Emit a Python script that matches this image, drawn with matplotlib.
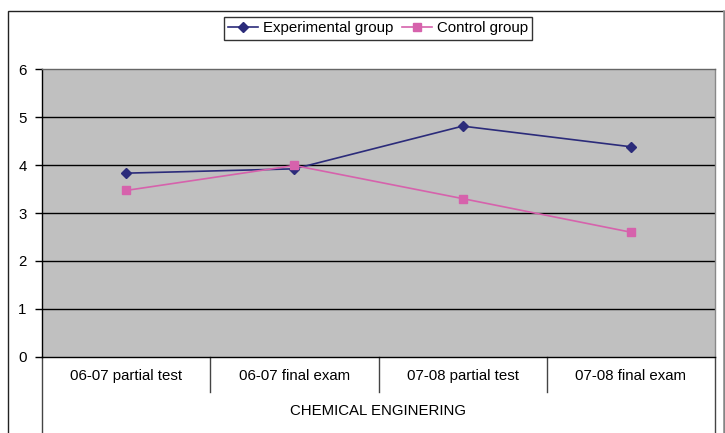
import matplotlib.pyplot as plt
import matplotlib.transforms as mtransforms
from matplotlib.patches import Rectangle

plt.rcParams['font.family'] = ['Liberation Sans', 'DejaVu Sans']

categories = ['06-07 partial test', '06-07 final exam', '07-08 partial test', '07-08 final exam']
group_label = 'CHEMICAL ENGINERING'
experimental = [3.83, 3.92, 4.81, 4.38]
control = [3.47, 3.99, 3.30, 2.60]
y_ticks = [0, 1, 2, 3, 4, 5, 6]

W, H = 725, 433
fs = 10.8
fig = plt.figure(figsize=(W / 100, H / 100), dpi=100)

# outer chart border (left/top dark, right edge lighter)
fig.patches.append(Rectangle((8 / W, -0.05), (724 - 8) / W, (H - 11) / H + 0.05,
                             transform=fig.transFigure, fill=False,
                             edgecolor='#222222', linewidth=1.0))
fig.add_artist(plt.Line2D([724 / W, 724 / W], [0, (H - 11) / H],
                          transform=fig.transFigure, color='#999999', linewidth=1.2))

ax = fig.add_axes([42 / W, (H - 357) / H, (715 - 42) / W, (357 - 69) / H])
ax.set_facecolor('#C0C0C0')

x = [i + 0.5 for i in range(len(categories))]
ax.plot(x, experimental, color='#2B2B7A', marker='D', markersize=5.5, linewidth=1.2,
        label='Experimental group', zorder=3)
ax.plot(x, control, color='#D662AC', marker='s', markersize=5.5, linewidth=1.2,
        label='Control group', zorder=3)

ax.set_xlim(0, len(categories))
ax.set_ylim(0, 6)
ax.set_yticks(y_ticks)
ax.set_xticks([])
ax.tick_params(axis='y', direction='out', length=5, width=1, labelsize=fs, pad=6)
for y in y_ticks[1:-1]:
    ax.axhline(y, color='black', linewidth=1.0, zorder=1)

ax.spines['left'].set_color('black')
ax.spines['bottom'].set_color('black')
ax.spines['top'].set_color('#666666')
ax.spines['right'].set_color('#888888')
for s in ax.spines.values():
    s.set_linewidth(1.0)

# category axis below the plot
trans = mtransforms.blended_transform_factory(ax.transData, ax.transAxes)
sep_bottom = -(392 - 357) / (357 - 69)
outer_bottom = -(H - 357 + 10) / (357 - 69)
for i in range(len(categories) + 1):
    low = outer_bottom if i in (0, len(categories)) else sep_bottom
    ax.plot([i, i], [0, low], color='#444444', linewidth=1.0,
            transform=trans, clip_on=False)
for xi, name in zip(x, categories):
    ax.text(xi, -(376 - 357) / (357 - 69), name, transform=trans,
            ha='center', va='center', fontsize=fs)
ax.text(len(categories) / 2, -(411 - 357) / (357 - 69), group_label, transform=trans,
        ha='center', va='center', fontsize=fs)

leg = fig.legend(loc='center', bbox_to_anchor=((222 + 534) / 2 / W, (H - 28) / H),
                 ncol=2, frameon=True, fancybox=False, fontsize=fs,
                 handlelength=2.0, columnspacing=0.6, handletextpad=0.3,
                 borderpad=0.3, borderaxespad=0)
leg.get_frame().set_edgecolor('black')
leg.get_frame().set_linewidth(1.0)

fig.savefig('out.png', dpi=100)
